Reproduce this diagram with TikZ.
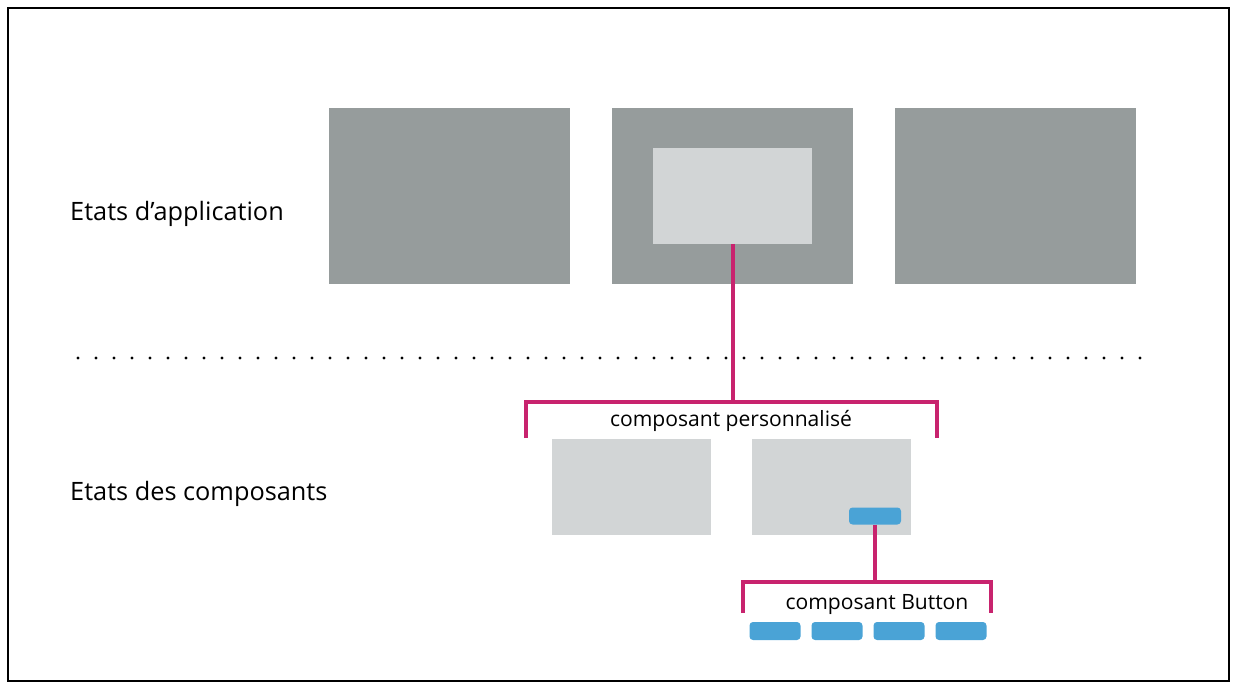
\documentclass[tikz,border=0pt]{standalone}
\usepackage{fontspec}
\defaultfontfeatures{}
\setmainfont{Open Sans}[Ligatures=ResetAll]
\definecolor{etatgris}{HTML}{969C9C}
\definecolor{compgris}{HTML}{D2D5D6}
\definecolor{lien}{HTML}{C8236E}
\definecolor{bouton}{HTML}{4AA3D6}
\tikzset{
  etat/.style={fill=etatgris, draw=none},
  comp/.style={fill=compgris, draw=none},
  btn/.style={fill=bouton, draw=none, rounded corners=2pt},
  lien/.style={draw=lien, line width=1.8pt},
  titre/.style={anchor=west, font=\fontsize{14.4}{17}\selectfont},
  legende/.style={font=\fontsize{12}{14}\selectfont}
}
\begin{document}
\begin{tikzpicture}[x=0.02cm, y=-0.02cm]
\useasboundingbox (0,0) rectangle (1237,689);
\draw[line width=1pt] (8,8) rectangle (1229,681);

% etats d'application
\node[titre] (appl) at (64,214) {Etats d'application};
\fill[etat] (329,108) rectangle (570,284);
\fill[etat] (612,108) rectangle (853,284);
\fill[etat] (895,108) rectangle (1136,284);
\fill[comp] (653,148) rectangle (812,244);
\coordinate (vue) at (733,244);

% separation
\foreach \x in {78,96,...,1152}
  \fill (\x,358) circle (0.9pt);

% etats des composants
\node[titre] (compo) at (64,494) {Etats des composants};
\coordinate (perso) at (733,402);
\draw[lien] (vue) -- (perso);
\draw[lien] (526,438) -- (526,402) -- (937,402) -- (937,438);
\node[legende] (txtperso) at (731,421) {composant personnalisé};
\fill[comp] (552,439) rectangle (711,535);
\fill[comp] (752,439) rectangle (911,535);
\node[btn, minimum width=1.04cm, minimum height=0.34cm] (b0) at (875,516) {};

% composant Button
\coordinate (bouton) at (877,582);
\draw[lien] (b0) -- (b0 |- bouton);
\draw[lien] (743,613) -- (743,582) -- (991,582) -- (991,613);
\node[legende] (txtbtn) at (877,605) {composant Button};
\foreach \x [count=\i] in {775,837,899,961}
  \node[btn, minimum width=1.02cm, minimum height=0.36cm] (b\i) at (\x,631) {};
\end{tikzpicture}
\end{document}
